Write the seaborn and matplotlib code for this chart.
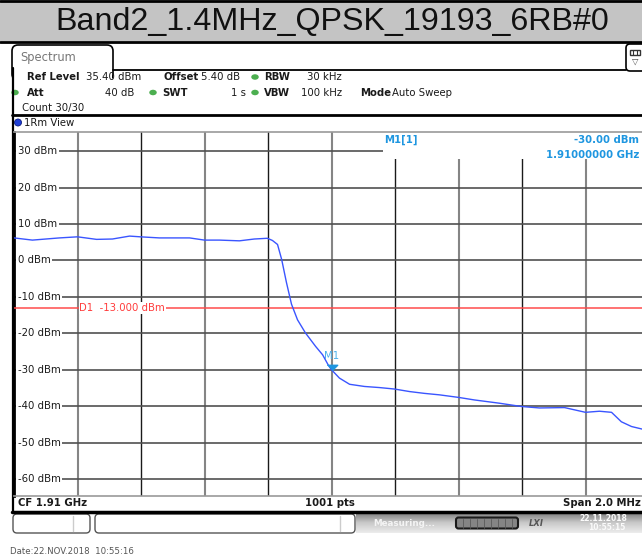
import numpy as np
import pandas as pd
import matplotlib
matplotlib.use("Agg")
import matplotlib.pyplot as plt
from matplotlib.colors import LinearSegmentedColormap
from matplotlib.patches import FancyBboxPatch, Rectangle, Ellipse
import seaborn as sns

# ---------------- data ----------------
title = "Band2_1.4MHz_QPSK_19193_6RB#0"

freq_mhz = [1909.000, 1909.058, 1909.143, 1909.200, 1909.260, 1909.310, 1909.364,
            1909.398, 1909.458, 1909.553, 1909.600, 1909.647, 1909.710, 1909.757,
            1909.798, 1909.814, 1909.830, 1909.843, 1909.858, 1909.874, 1909.893,
            1909.918, 1909.950, 1909.972, 1909.991, 1910.000, 1910.025, 1910.057,
            1910.104, 1910.151, 1910.198, 1910.246, 1910.293, 1910.340, 1910.400,
            1910.450, 1910.529, 1910.598, 1910.655, 1910.734, 1910.800, 1910.844,
            1910.882, 1910.913, 1910.945, 1910.983, 1911.000]
level_dbm = [6.2, 5.6, 6.2, 6.5, 5.8, 5.9, 6.7,
             6.5, 6.2, 6.2, 5.6, 5.6, 5.4, 5.9,
             6.1, 5.5, 4.4, 0.3, -6.0, -12.0, -16.3,
             -19.9, -23.6, -25.9, -28.9, -30.0, -32.3, -34.0,
             -34.6, -34.9, -35.3, -36.0, -36.5, -36.9, -37.6,
             -38.3, -39.2, -40.1, -40.5, -40.4, -41.7, -41.4,
             -41.7, -44.3, -45.6, -46.4, -46.6]

y_ticks = [30, 20, 10, 0, -10, -20, -30, -40, -50, -60]
y_tick_labels = [f"{v} dBm" for v in y_ticks]
x_grid_mhz = [1909.2, 1909.4, 1909.6, 1909.8, 1910.0, 1910.2, 1910.4, 1910.6, 1910.8]
x_grid_dark = [False, True, False, True, False, True, False, True, False]

center_mhz = 1910.0
span_mhz = 2.0
ref_level = 35.4
range_db = 100.0
limit_dbm = -13.0
marker_freq_mhz = 1910.0
marker_level = -30.0

# ---------------- figure ----------------
sns.set_theme(style="white")
plt.rcParams['font.family'] = ['DejaVu Sans']

W, H = 642, 560
fig = plt.figure(figsize=(W / 100, H / 100), dpi=100)
fig.patch.set_facecolor("white")

bg = fig.add_axes([0, 0, 1, 1], zorder=0)
bg.set_xlim(0, W)
bg.set_ylim(H, 0)
bg.axis("off")

FS = 7.3
TXT = "#1a1a1a"

# title bar
bg.add_patch(Rectangle((0, 0), W, 41, fc="#c4c4c4", ec="none"))
bg.plot([0, W], [1, 1], color="black", lw=2)
bg.plot([0, W], [41.5, 41.5], color="black", lw=2)
bg.text(332, 22, title, ha="center", va="center", fontsize=23.2,
        family="Liberation Sans", color="#111111")

# Spectrum tab
bg.add_patch(FancyBboxPatch((12, 45), 101, 35, boxstyle="round,pad=0,rounding_size=6",
                            fc="white", ec="black", lw=1.2))
bg.add_patch(Rectangle((12.8, 68), 99.4, 14, fc="white", ec="none", zorder=3))
bg.plot([113, 626], [70, 70], color="black", lw=1.3, zorder=4)
bg.text(20, 58, "Spectrum", ha="left", va="center", fontsize=8.3, color="#777777")

# top-right icon
bg.add_patch(FancyBboxPatch((626, 44), 22, 27, boxstyle="round,pad=0,rounding_size=4",
                            fc="white", ec="black", lw=1.2))
bg.add_patch(Rectangle((630, 50), 10, 5, fc="white", ec="#333333", lw=1))
bg.plot([633.3, 633.3], [50, 55], color="#333333", lw=0.8)
bg.plot([636.6, 636.6], [50, 55], color="#333333", lw=0.8)
bg.text(635, 61.5, "\u25BD", ha="center", va="center", fontsize=6, color="#444444")

# panel left border
bg.plot([12.5, 12.5], [68, 512], color="black", lw=1.6, zorder=4)

# header info
green = "#4caf50"
for (cx, cy) in [(15, 92.5), (153, 92.5), (255, 77), (255, 92.5)]:
    bg.add_patch(Ellipse((cx, cy), 7.5, 5.5, fc=green, ec="none"))

def t(x, y, s, bold=False, ha="left", color=TXT, fs=FS):
    bg.text(x, y, s, ha=ha, va="center", fontsize=fs, color=color,
            fontweight="bold" if bold else "normal")

t(27, 77.5, "Ref Level", bold=True)
t(86, 77.5, "35.40 dBm")
t(164, 77.5, "Offset", bold=True)
t(201, 77.5, "5.40 dB")
t(264, 77.5, "RBW", bold=True)
t(342, 77.5, "30 kHz", ha="right")
t(27, 93, "Att", bold=True)
t(134, 93, "40 dB", ha="right")
t(162, 93, "SWT", bold=True)
t(246, 93, "1 s", ha="right")
t(264, 93, "VBW", bold=True)
t(342, 93, "100 kHz", ha="right")
t(360, 93, "Mode", bold=True)
t(392, 93, "Auto Sweep")
t(22, 107.5, "Count 30/30")

bg.plot([12, W], [114.5, 114.5], color="black", lw=2)
bg.add_patch(Ellipse((18, 122.5), 7, 7, fc="#1f3fd6", ec="#0a1a80", lw=0.6))
t(23.5, 122.5, "1Rm View")

# bottom info row
t(18, 503, "CF 1.91 GHz", bold=True)
t(330, 503, "1001 pts", bold=True, ha="center")
t(641, 503, "Span 2.0 MHz", bold=True, ha="right")
bg.plot([12, W], [511.5, 511.5], color="black", lw=2.5)

# status bar
bg.add_patch(FancyBboxPatch((13, 514), 77, 19, boxstyle="round,pad=0,rounding_size=4",
                            fc="white", ec="#555555", lw=1))
bg.plot([73, 73], [516, 531], color="#cccccc", lw=1)
bg.add_patch(FancyBboxPatch((95, 514), 260, 19, boxstyle="round,pad=0,rounding_size=4",
                            fc="white", ec="#555555", lw=1))
bg.plot([340, 340], [516, 531], color="#cccccc", lw=1)
grad = np.linspace(0, 1, 40).reshape(-1, 1)
bg.imshow(grad, extent=(356, W, 533, 512.5),
          cmap=LinearSegmentedColormap.from_list("g", ["#7a7a7a", "#c8c8c8", "#ececec"]),
          aspect="auto", zorder=1)
bg.text(373, 523, "Measuring...", ha="left", va="center", fontsize=6.3, color="#f4f4f4",
        fontweight="bold", zorder=2)
bg.add_patch(FancyBboxPatch((456, 517.5), 62, 11, boxstyle="round,pad=0,rounding_size=2.5",
                            fc="#858585", ec="#1a1a1a", lw=1.5, zorder=2))
for xx in range(463, 516, 7):
    bg.plot([xx, xx], [518.5, 527.5], color="#5a5a5a", lw=0.6, zorder=3)
bg.text(529, 523, "LXI", ha="left", va="center", fontsize=6, color="#555555",
        fontweight="bold", style="italic", zorder=2)
bg.text(603, 518.5, "22.11.2018", ha="center", va="center", fontsize=5.5, color="#fafafa",
        fontweight="bold", zorder=2)
bg.text(626, 528, "10:55:15", ha="right", va="center", fontsize=5.5, color="#fafafa",
        fontweight="bold", zorder=2)

bg.text(10, 552, "Date:22.NOV.2018  10:55:16", ha="left", va="center", fontsize=6.2,
        color="#555555")

# ---------------- main plot ----------------
top_px, bot_px = 131.6, 495.7
left_px, right_px = 14.0, 649.0
ax = fig.add_axes([left_px / W, 1 - bot_px / H, (right_px - left_px) / W, (bot_px - top_px) / H],
                  zorder=2)
ax.set_xlim(center_mhz - span_mhz / 2, center_mhz + span_mhz / 2)
ax.set_ylim(ref_level - range_db, ref_level)
ax.set_xticks([])
ax.set_yticks([])
ax.set_facecolor("white")
for side, sp in ax.spines.items():
    sp.set_color("#9a9a9a")
    sp.set_linewidth(1.2)
ax.spines["left"].set_color("black")
ax.spines["left"].set_linewidth(2)

for xg, dark in zip(x_grid_mhz, x_grid_dark):
    ax.axvline(xg, color="#1a1a1a" if dark else "#858585", lw=1.0 if dark else 1.5, zorder=1)
for yv in y_ticks:
    ax.axhline(yv, color="#505050", lw=1.2, zorder=1)

# marker readout box hides the grid in the upper right
x0 = center_mhz - span_mhz / 2
ax.add_patch(Rectangle((x0 + (383 - left_px) / 317.5, 27.8), 2.0, 10,
                       fc="white", ec="none", zorder=2))

for yv, lab in zip(y_ticks, y_tick_labels):
    ax.text(x0 + 0.012, yv, lab, ha="left", va="center", fontsize=FS, color=TXT,
            bbox=dict(fc="white", ec="none", pad=1.2), zorder=3)

# display line D1
ax.axhline(limit_dbm, color="#ff4b4b", lw=1.1, zorder=3)
ax.text(x0 + 0.206, limit_dbm, f"D1  {limit_dbm:.3f} dBm", ha="left", va="center",
        fontsize=FS, color="#ff3b3b", bbox=dict(fc="white", ec="none", pad=0.5), zorder=4)

# trace
df = pd.DataFrame({"freq": freq_mhz, "level": level_dbm})
sns.lineplot(data=df, x="freq", y="level", ax=ax, color="#3a55ff", lw=1.0, zorder=5,
             estimator=None, sort=False)
ax.set_xlabel("")
ax.set_ylabel("")

# marker M1
mcol = "#1e96e0"
ax.plot([marker_freq_mhz], [marker_level], marker=[(-1, 1), (1, 1), (0, 0)], ms=7.5,
        color=mcol, ls="none", zorder=6)
ax.annotate("M1", (marker_freq_mhz, marker_level), xytext=(0, 6.5), textcoords="offset points",
            ha="center", va="bottom", fontsize=FS, color="#4ab0ec", zorder=6)

ax.text(x0 + (384 - left_px) / 317.5, ref_level - (140 - top_px) / 3.63, "M1[1]",
        ha="left", va="center", fontsize=FS, color=mcol, fontweight="bold", zorder=6)
ax.text(x0 + (639 - left_px) / 317.5, ref_level - (140 - top_px) / 3.63,
        f"{marker_level:.2f} dBm", ha="right", va="center", fontsize=FS, color=mcol,
        fontweight="bold", zorder=6, clip_on=False)
ax.text(x0 + (639 - left_px) / 317.5, ref_level - (154.5 - top_px) / 3.63,
        f"{marker_freq_mhz / 1000:.8f} GHz", ha="right", va="center", fontsize=FS, color=mcol,
        fontweight="bold", zorder=6, clip_on=False)

fig.savefig("out.png", dpi=100)
